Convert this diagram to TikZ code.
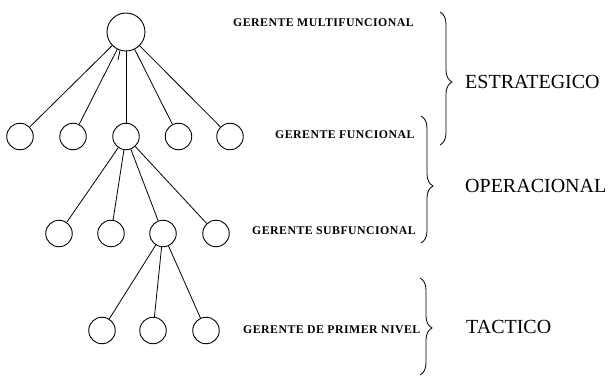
\documentclass[tikz,border=0pt]{standalone}
\usepackage{fontspec}
\setmainfont{Liberation Serif}
\newfontfamily\tierfont{Liberation Serif}
\newfontfamily\rolefont[LetterSpace=4]{Liberation Serif Bold}
\usetikzlibrary{decorations.pathreplacing}
\begin{document}
\begin{tikzpicture}[x=1pt,y=-1pt,
  boss/.style={circle,draw,line width=0.9pt,inner sep=0pt,minimum size=38pt},
  unit/.style={circle,draw,line width=0.9pt,inner sep=0pt,minimum size=26.5pt},
  link/.style={line width=0.8pt},
  role/.style={anchor=west,inner sep=0pt,font=\rolefont\fontsize{11.8}{14}\selectfont},
  tier/.style={anchor=west,inner sep=0pt,font=\tierfont\fontsize{20}{24}\selectfont},
  bracket/.style={line width=0.8pt,decorate,decoration={brace,amplitude=12pt,aspect=#1}}]
\fill[white] (0,0) rectangle (616,377);
\useasboundingbox (0,0) rectangle (616,377);

% top manager
\node[boss] (top) at (126,32) {};
% functional managers
\node[unit] (f1) at (20,136.5) {};
\node[unit] (f2) at (73,136.5) {};
\node[unit] (f3) at (126,136.5) {};
\node[unit] (f4) at (178.5,136.5) {};
\node[unit] (f5) at (230,136.5) {};
% subfunctional managers
\node[unit] (s1) at (59,233.5) {};
\node[unit] (s2) at (111,233.5) {};
\node[unit] (s3) at (163,233.5) {};
\node[unit] (s4) at (216,233.5) {};
% first-level managers
\node[unit] (p1) at (102,330.5) {};
\node[unit] (p2) at (153,330.5) {};
\node[unit] (p3) at (206,330.5) {};

% reporting lines
\foreach \n in {f1,f2,f3,f4,f5} \draw[link] (top) -- (\n);
\foreach \n in {s1,s2,s3,s4} \draw[link] (f3) -- (\n);
\foreach \n in {p1,p2,p3} \draw[link] (s3) -- (\n);
\coordinate (stub) at (118,60);
\draw[link] (top.252) -- (stub);

% role labels
\node[role] (r1) at (233,23) {GERENTE MULTIFUNCIONAL};
\node[role] (r2) at (275,135) {GERENTE FUNCIONAL};
\node[role] (r3) at (252,231) {GERENTE SUBFUNCIONAL};
\node[role] (r4) at (243,330) {GERENTE DE PRIMER NIVEL};

% level brackets
\coordinate (b1a) at (440,12);  \coordinate (b1b) at (440,145);
\coordinate (b2a) at (421,116); \coordinate (b2b) at (421,243);
\coordinate (b3a) at (420,278); \coordinate (b3b) at (420,375);
\draw[bracket=0.526] (b1a) -- (b1b);
\draw[bracket=0.551] (b2a) -- (b2b);
\draw[bracket=0.515] (b3a) -- (b3b);

% level names
\node[tier] (t1) at (465,82) {ESTRATEGICO};
\node[tier] (t2) at (465,186) {OPERACIONAL};
\node[tier] (t3) at (466,327) {TACTICO};
\end{tikzpicture}
\end{document}
